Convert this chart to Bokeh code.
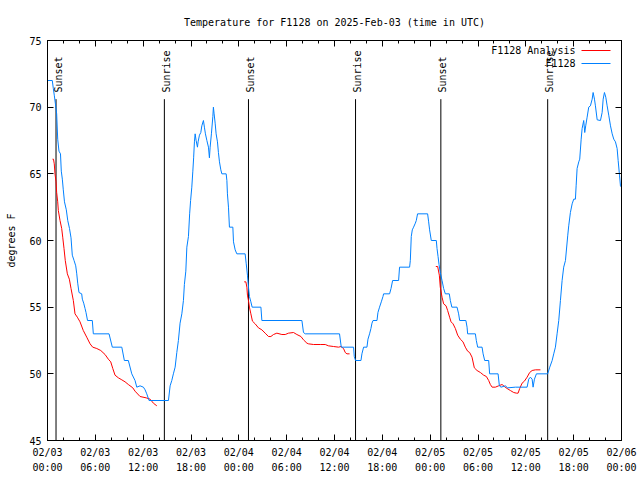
from math import pi
from bokeh.plotting import figure
from bokeh.models import Range1d, FixedTicker, LinearAxis, Label, Arrow
from bokeh.core.properties import value
from bokeh.embed import file_html
from bokeh.resources import INLINE

FONT = "DejaVu Sans Mono"
FS = "10px"

# Observed temperature (F1128), hours since 2025-02-03 00:00 UTC
obs_hours = [0.00, 0.60, 0.73, 0.85, 0.98, 1.15, 1.28, 1.44, 1.63, 1.73, 1.86, 1.98, 2.13, 2.36, 2.54,
             2.76, 2.95, 3.11, 3.33, 3.54, 3.67, 3.79, 3.95, 4.29, 4.37, 4.54, 4.71, 4.83, 5.02, 5.62,
             5.75, 7.72, 8.13, 9.32, 9.64, 10.14, 10.57, 10.98, 11.20, 11.61, 12.03, 12.24, 12.45, 12.74,
             15.17, 15.38, 15.59, 15.79, 16.01, 16.22, 16.42, 16.63, 16.85, 17.05, 17.17, 17.35, 17.48,
             17.68, 17.83, 17.95, 18.10, 18.23, 18.33, 18.43, 18.52, 18.64, 18.81, 18.89, 19.06, 19.23,
             19.36, 19.56, 19.68, 19.81, 19.99, 20.19, 20.31, 20.40, 20.56, 20.74, 20.81, 20.90, 21.03,
             21.15, 21.32, 21.44, 21.57, 21.74, 21.87, 22.41, 22.50, 22.57, 22.70, 22.82, 23.25, 23.33,
             23.54, 23.75, 24.79, 24.92, 25.08, 25.21, 25.33, 25.51, 25.67, 26.77, 26.89, 31.91, 32.11,
             32.33, 36.63, 36.85, 38.39, 38.48, 38.64, 39.32, 39.44, 39.65, 40.07, 40.20, 40.40, 40.57,
             40.70, 40.83, 41.33, 41.45, 41.65, 41.87, 42.08, 42.16, 42.91, 43.09, 43.29, 44.04, 44.16,
             45.42, 45.51, 45.63, 45.76, 45.92, 46.14, 46.26, 46.42, 47.68, 47.81, 47.93, 48.14, 48.77,
             48.86, 48.99, 49.11, 49.27, 49.49, 49.69, 49.90, 50.40, 50.53, 50.72, 51.37, 51.57, 51.70,
             52.48, 52.63, 52.70, 53.67, 53.79, 53.96, 54.51, 54.64, 54.84, 55.34, 55.46, 56.52, 56.68,
             56.89, 57.43, 57.72, 58.69, 60.16, 60.36, 60.57, 60.79, 60.91, 61.08, 61.33, 62.74, 63.00,
             63.30, 63.50, 63.71, 63.92, 64.13, 64.34, 64.55, 64.75, 64.97, 65.26, 65.38, 65.59, 65.81,
             66.01, 66.22, 66.31, 66.43, 66.64, 66.76, 66.94, 67.06, 67.26, 67.39, 67.51, 67.69, 67.89,
             68.10, 68.32, 68.44, 68.61, 68.73, 68.95, 69.36, 69.57, 69.70, 69.86, 70.03, 70.20, 70.40,
             70.62, 70.83, 71.03, 71.24, 71.45, 71.58, 71.75, 71.87, 72.00]
obs_temp = [72.0, 72.0, 71.4, 70.9, 70.3, 69.5, 67.6, 66.7, 66.5, 65.2, 64.6, 63.8, 62.9, 62.3, 61.5,
            60.9, 60.2, 58.9, 58.5, 58.1, 57.5, 56.8, 56.1, 56.0, 55.6, 55.3, 54.9, 54.6, 54.0, 54.0,
            53.0, 53.0, 52.0, 52.0, 51.0, 51.0, 50.0, 49.5, 49.0, 49.1, 49.0, 48.8, 48.5, 48.0,
            48.0, 49.1, 49.5, 50.0, 50.5, 51.6, 52.5, 53.8, 54.5, 55.5, 56.7, 57.7, 59.5,
            60.3, 62.0, 63.0, 64.0, 65.2, 66.2, 67.4, 68.0, 67.5, 67.0, 67.4, 67.9, 68.1,
            68.6, 69.0, 68.5, 68.0, 67.5, 67.0, 66.2, 67.0, 68.0, 69.3, 70.0, 69.5, 68.8,
            68.0, 67.4, 66.6, 65.9, 65.3, 65.0, 65.0, 64.5, 63.5, 62.5, 61.0, 61.0, 59.9,
            59.3, 59.0, 59.0, 58.3, 57.4, 56.5, 55.8, 55.4, 55.0, 55.0, 54.0, 54.0, 53.1,
            53.0, 53.0, 52.0, 52.0, 51.3, 51.0, 51.0, 51.5, 52.0, 52.0, 52.6, 53.0, 53.4,
            53.8, 54.0, 54.0, 54.6, 55.0, 55.4, 55.8, 56.0, 56.0, 56.4, 57.0, 57.0, 58.0,
            58.0, 58.5, 60.3, 60.8, 61.0, 61.3, 61.5, 62.0, 62.0, 61.4, 60.8, 60.0, 60.0,
            59.4, 58.8, 58.2, 57.6, 57.0, 56.4, 56.0, 56.0, 55.5, 55.0, 55.0, 54.5, 54.0,
            54.0, 53.5, 53.0, 53.0, 52.5, 52.0, 52.0, 51.5, 51.0, 51.0, 50.0, 50.0, 49.1,
            49.0, 49.1, 48.95, 49.0, 49.0, 49.6, 49.75, 49.6, 49.0, 49.6, 50.0, 50.0, 50.5,
            51.0, 51.5, 52.0, 53.0, 54.0, 55.5, 57.0, 58.0, 58.5, 60.4, 61.1, 62.1, 62.75,
            63.1, 63.1, 64.1, 65.4, 65.9, 66.1, 67.6, 68.4, 69.0, 68.1, 68.6, 69.25, 70.0,
            70.1, 70.6, 71.1, 70.6, 70.1, 69.05, 69.0, 69.6, 70.6, 71.1, 70.75, 70.1, 69.4,
            68.6, 68.0, 67.6, 67.4, 66.9, 66.0, 64.9, 64.1, 64.0]

# Analysis runs (F1128 Analysis), one list per evening
ana_hours_1 = [0.63, 0.75, 0.85, 0.94, 1.07, 1.15, 1.28, 1.36, 1.57, 1.78, 1.91, 2.07, 2.23, 2.49, 2.74,
               2.95, 3.24, 3.45, 3.74, 4.08, 4.49, 4.92, 5.34, 5.67, 6.18, 6.68, 7.22, 7.63, 7.93, 8.19,
               8.47, 8.89, 9.32, 9.73, 10.14, 10.70, 10.98, 11.61, 12.37, 12.87, 13.28, 13.71]
ana_temp_1 = [66.1, 66.1, 65.75, 65.0, 64.4, 63.6, 62.9, 62.25, 61.5, 60.9, 60.25, 59.4, 58.5, 57.5, 57.1,
              56.4, 55.5, 54.5, 54.25, 53.9, 53.25, 52.75, 52.25, 52.0, 51.9, 51.75, 51.45, 51.1, 50.9, 50.4,
              49.9, 49.7, 49.55, 49.4, 49.2, 48.95, 48.7, 48.3, 48.2, 48.1, 47.8, 47.6]
ana_hours_2 = [24.67, 24.88, 25.01, 25.08, 25.21, 25.33, 25.51, 25.71, 26.05, 26.46, 26.89, 27.30, 27.72,
               28.02, 28.35, 28.77, 29.40, 29.82, 30.23, 30.86, 31.28, 31.79, 32.11, 32.54, 32.74, 33.37,
               34.21, 34.84, 35.25, 35.88, 36.51, 36.81, 37.13, 37.35, 37.56, 37.89]
ana_temp_2 = [56.9, 56.9, 56.5, 55.9, 55.5, 55.0, 54.5, 53.95, 53.75, 53.45, 53.3, 53.05, 52.8,
              52.8, 52.95, 53.05, 52.95, 52.95, 53.05, 53.1, 52.95, 52.8, 52.55, 52.3, 52.25, 52.2,
              52.2, 52.2, 52.1, 52.05, 52.0, 52.05, 51.9, 51.6, 51.5, 51.5]
ana_hours_3 = [48.71, 48.94, 49.15, 49.27, 49.49, 49.69, 49.99, 50.19, 50.44, 50.62, 50.87, 51.16, 51.45,
               51.78, 52.12, 52.41, 52.70, 52.95, 53.25, 53.54, 53.88, 54.30, 54.71, 55.05, 55.34, 55.55,
               55.77, 56.18, 56.59, 57.02, 57.31, 57.65, 58.06, 58.48, 58.82, 59.03, 59.23, 59.53, 59.82,
               60.16, 60.48, 60.79, 61.20, 61.83]
ana_temp_3 = [58.05, 58.05, 57.4, 56.5, 55.75, 55.25, 55.1, 54.75, 54.25, 53.9, 53.75, 53.4, 52.9,
              52.6, 52.4, 52.0, 51.7, 51.6, 51.25, 50.45, 50.25, 50.1, 49.9, 49.8, 49.5, 49.2,
              49.0, 49.0, 49.1, 49.2, 49.05, 48.9, 48.75, 48.6, 48.55, 48.55, 48.9, 49.3, 49.45,
              49.75, 50.1, 50.25, 50.3, 50.3]

event_hours = [1.07, 14.66, 25.21, 38.64, 49.34, 62.74]
event_names = ["Sunset", "Sunrise", "Sunset", "Sunrise", "Sunset", "Sunrise"]

tick_hours = [0, 6, 12, 18, 24, 30, 36, 42, 48, 54, 60, 66, 72]
tick_labels = ["02/03\n00:00", "02/03\n06:00", "02/03\n12:00", "02/03\n18:00",
               "02/04\n00:00", "02/04\n06:00", "02/04\n12:00", "02/04\n18:00",
               "02/05\n00:00", "02/05\n06:00", "02/05\n12:00", "02/05\n18:00",
               "02/06\n00:00"]
minor_hours = [0, 2, 4, 6, 8, 10, 12, 14, 16, 18, 20, 22, 24, 26, 28, 30, 32, 34, 36,
               38, 40, 42, 44, 46, 48, 50, 52, 54, 56, 58, 60, 62, 64, 66, 68, 70, 72]
temp_ticks = [45, 50, 55, 60, 65, 70, 75]

Y_MIN, Y_MAX = 45, 75
LINE_TOP = 70.6
LABEL_Y = 71.1

p = figure(width=640, height=480, output_backend="svg", toolbar_location=None,
           x_range=Range1d(0, 72), y_range=Range1d(Y_MIN, Y_MAX),
           min_border_left=47, min_border_right=19, min_border_top=40, min_border_bottom=40,
           title="Temperature for F1128 on 2025-Feb-03 (time in UTC)")
p.title.align = "center"
p.title.text_font = FONT
p.title.text_font_size = FS
p.title.text_font_style = "normal"
p.title.text_color = "black"
p.title.standoff = 25
p.grid.visible = False
p.outline_line_color = "black"
p.outline_line_width = 1
p.background_fill_color = "white"
p.border_fill_color = "white"

xt = FixedTicker(ticks=tick_hours, minor_ticks=minor_hours)
yt = FixedTicker(ticks=temp_ticks, minor_ticks=[])


def style_axis(ax, ticker):
    ax.ticker = ticker
    ax.major_tick_in = 6
    ax.major_tick_out = 0
    ax.minor_tick_in = 3
    ax.minor_tick_out = 0
    ax.axis_line_color = "black"
    ax.major_tick_line_color = "black"
    ax.minor_tick_line_color = "black"
    ax.major_label_text_font = FONT
    ax.major_label_text_font_size = FS
    ax.major_label_text_color = "black"


xa = p.xaxis[0]
style_axis(xa, xt)
xa.major_label_overrides = {t: lab for t, lab in zip(tick_hours, tick_labels)}
xa.major_label_standoff = 6
xa.major_label_text_line_height = 1.4

ya = p.yaxis[0]
style_axis(ya, yt)
ya.major_label_standoff = 6
ya.axis_label = "degrees F"
ya.axis_label_text_font = FONT
ya.axis_label_text_font_size = FS
ya.axis_label_text_font_style = "normal"
ya.axis_label_text_color = "black"
ya.axis_label_standoff = 9

top = LinearAxis()
style_axis(top, xt)
top.major_label_overrides = {t: "" for t in tick_hours}
top.major_label_text_font_size = "0px"
top.major_label_standoff = 0
p.add_layout(top, "above")

right = LinearAxis()
style_axis(right, yt)
right.major_label_overrides = {t: "" for t in temp_ticks}
right.major_label_text_font_size = "0px"
right.major_label_standoff = 0
p.add_layout(right, "right")

# sunrise / sunset markers
p.segment(x0=event_hours, y0=[Y_MIN] * len(event_hours), x1=event_hours,
          y1=[LINE_TOP] * len(event_hours), line_color="black", line_width=1)
p.text(x=event_hours, y=[LABEL_Y] * len(event_hours), text=event_names, angle=pi / 2,
       text_align="left", text_baseline="middle", x_offset=2,
       text_font=value(FONT), text_font_size=FS, text_color="black")

# data
p.multi_line(xs=[ana_hours_1, ana_hours_2, ana_hours_3], ys=[ana_temp_1, ana_temp_2, ana_temp_3],
             line_color="#ff0000", line_width=1)
p.line(obs_hours, obs_temp, line_color="#0080ff", line_width=1)

# key (text left of the sample line, as in the original)
key_rows = [("F1128 Analysis", "#ff0000", 390), ("F1128", "#0080ff", 377)]
for name, col, sy in key_rows:
    p.add_layout(Label(x=528, y=sy, x_units="screen", y_units="screen", text=name,
                       text_align="right", text_baseline="middle", text_font=FONT,
                       text_font_size=FS, text_color="black"))
    p.add_layout(Arrow(end=None, x_start=534, y_start=sy, x_end=563, y_end=sy,
                       start_units="screen", end_units="screen", line_color=col, line_width=1))

open("out.html", "w").write(file_html(p, INLINE))
